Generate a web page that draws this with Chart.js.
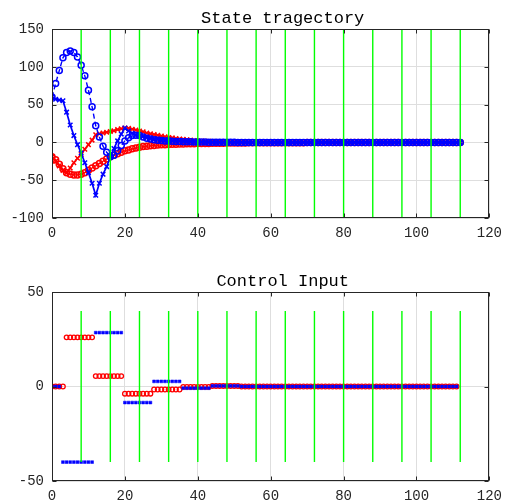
<!DOCTYPE html>
<html>
<head>
<meta charset="utf-8">
<script src="https://cdn.jsdelivr.net/npm/chart.js@4"></script>
<style>
  body { margin: 0; background: #fff; }
  canvas { position: absolute; left: 0; }
  #state { top: 0; }
  #input { top: 250px; }
</style>
</head>
<body>
<canvas id="state" width="509" height="250"></canvas>
<canvas id="input" width="509" height="253"></canvas>
<script>
// state trajectories, one value per step (t = 0..112)
const blueCircle = [
  60, 78, 95, 112, 119, 121, 119, 113, 102, 88,
  69, 47, 22, 7, -5, -13, -19, -17, -11, -4,
  2, 6, 9, 9.5, 9, 7, 5.5, 4.5, 3.5, 3,
  2.5, 2, 1.8, 1.5, 1.3, 1.1, 1, 0.8, 0.7, 0.6,
  0.5, 0.4, 0.4, 0.3, 0.3, 0.2, 0.2, 0.2, 0.1, 0.1,
  0.1, 0, 0, 0, 0, 0, 0, 0, 0, 0,
  0, 0, 0, 0, 0, 0, 0, 0, 0, 0,
  0, 0, 0, 0, 0, 0, 0, 0, 0, 0,
  0, 0, 0, 0, 0, 0, 0, 0, 0, 0,
  0, 0, 0, 0, 0, 0, 0, 0, 0, 0,
  0, 0, 0, 0, 0, 0, 0, 0, 0, 0,
  0, 0, 0
];
const blueCross = [
  60, 57, 56, 55, 40, 23, 9, -3, -14, -27,
  -40, -54, -70, -54, -42, -32, -19, -8, 2, 11,
  19, 15, 12, 10, 9, 8, 7, 6, 5, 4.5,
  4, 3.5, 3, 2.6, 2.2, 1.9, 1.6, 1.3, 1.1, 0.9,
  0.8, 0.6, 0.5, 0.4, 0.3, 0.3, 0.2, 0.2, 0.1, 0.1,
  0.1, 0, 0, 0, 0, 0, 0, 0, 0, 0,
  0, 0, 0, 0, 0, 0, 0, 0, 0, 0,
  0, 0, 0, 0, 0, 0, 0, 0, 0, 0,
  0, 0, 0, 0, 0, 0, 0, 0, 0, 0,
  0, 0, 0, 0, 0, 0, 0, 0, 0, 0,
  0, 0, 0, 0, 0, 0, 0, 0, 0, 0,
  0, 0, 0
];
const redCross = [
  -19, -25, -31, -37, -40, -34, -27, -21, -16, -9,
  -3, 3, 10, 11.5, 12.5, 13.5, 14.5, 15.5, 17, 18,
  19, 18.5, 17.5, 16.5, 15, 14, 12.5, 11.5, 10.5, 9.5,
  8.5, 7.5, 6.5, 6, 5, 4.5, 4, 3.5, 3, 2.5,
  2.2, 1.9, 1.6, 1.4, 1.2, 1, 0.9, 0.8, 0.7, 0.6,
  0.5, 0.4, 0.4, 0.3, 0.3, 0.2, 0.2, 0.2, 0.1, 0.1,
  0.1, 0, 0, 0, 0, 0, 0, 0, 0, 0,
  0, 0, 0, 0, 0, 0, 0, 0, 0, 0,
  0, 0, 0, 0, 0, 0, 0, 0, 0, 0,
  0, 0, 0, 0, 0, 0, 0, 0, 0, 0,
  0, 0, 0, 0, 0, 0, 0, 0, 0, 0,
  0, 0, 0
];
const redCircle = [
  -19, -23, -29, -35, -40, -42, -43, -43, -42, -40,
  -37, -34, -31, -28, -25, -22, -19, -17, -15, -13,
  -11, -10, -8.5, -7.5, -6.5, -5.5, -5, -4.5, -4, -3.5,
  -3.2, -3, -2.8, -2.6, -2.4, -2.2, -2, -1.9, -1.8, -1.7,
  -1.6, -1.5, -1.4, -1.3, -1.2, -1.1, -1, -1, -0.9, -0.9,
  -0.8, -0.8, -0.7, -0.7, -0.6, -0.6, -0.6, -0.5, -0.5, -0.5,
  -0.4, -0.4, -0.4, -0.4, -0.4, -0.3, -0.3, -0.3, -0.3, -0.3,
  -0.2, -0.2, -0.2, -0.2, -0.2, -0.1, -0.1, -0.1, -0.1, -0.1,
  -0.1, -0.1, -0.1, -0.1, -0.1, 0, 0, 0, 0, 0,
  0, 0, 0, 0, 0, 0, 0, 0, 0, 0,
  0, 0, 0, 0, 0, 0, 0, 0, 0, 0,
  0, 0, 0
];

// control inputs, one value per step (t = 0..111)
const redInput = [
  0, 0, 0, 0, 26, 26, 26, 26, 26, 26,
  26, 26, 5.5, 5.5, 5.5, 5.5, 5.5, 5.5, 5.5, 5.5,
  -3.8, -3.8, -3.8, -3.8, -3.8, -3.8, -3.8, -3.8, -1.6, -1.6,
  -1.6, -1.6, -1.6, -1.6, -1.6, -1.6, -0.2, -0.2, -0.2, -0.2,
  -0.2, -0.2, -0.2, -0.2, 0.3, 0.3, 0.3, 0.3, 0.3, 0.3,
  0.3, 0.3, 0, 0, 0, 0, 0, 0, 0, 0,
  0, 0, 0, 0, 0, 0, 0, 0, 0, 0,
  0, 0, 0, 0, 0, 0, 0, 0, 0, 0,
  0, 0, 0, 0, 0, 0, 0, 0, 0, 0,
  0, 0, 0, 0, 0, 0, 0, 0, 0, 0,
  0, 0, 0, 0, 0, 0, 0, 0, 0, 0,
  0, 0
];
const blueInput = [
  0, 0, 0, -40, -40, -40, -40, -40, -40, -40,
  -40, -40, 28.5, 28.5, 28.5, 28.5, 28.5, 28.5, 28.5, 28.5,
  -8.5, -8.5, -8.5, -8.5, -8.5, -8.5, -8.5, -8.5, 2.7, 2.7,
  2.7, 2.7, 2.7, 2.7, 2.7, 2.7, -0.9, -0.9, -0.9, -0.9,
  -0.9, -0.9, -0.9, -0.9, 0.3, 0.3, 0.3, 0.3, 0.3, 0.3,
  0.3, 0.3, 0, 0, 0, 0, 0, 0, 0, 0,
  0, 0, 0, 0, 0, 0, 0, 0, 0, 0,
  0, 0, 0, 0, 0, 0, 0, 0, 0, 0,
  0, 0, 0, 0, 0, 0, 0, 0, 0, 0,
  0, 0, 0, 0, 0, 0, 0, 0, 0, 0,
  0, 0, 0, 0, 0, 0, 0, 0, 0, 0,
  0, 0
];

// green markers at every hold step, and how far they reach
const holdTimes = [8, 16, 24, 32, 40, 48, 56, 64, 72, 80, 88, 96, 104, 112];
const stateSpan = [-100, 150];
const inputSpan = [-40, 40];

const xTicks = { min: 0, max: 120, step: 20 };
const stateTicks = { min: -100, max: 150, step: 50 };
const inputTicks = { min: -50, max: 50, step: 50 };

const BLUE = '#0000ff';
const RED = '#ff0000';
const GREEN = '#00ff00';
const AXIS = '#262626';
const GRID = '#dedede';
const MONO = '"Liberation Mono", "DejaVu Sans Mono", monospace';

const toPoints = arr => arr.map((v, i) => ({ x: i, y: v }));

function holdLines(span) {
  return holdTimes.map(t => ({
    data: [{ x: t, y: span[0] }, { x: t, y: span[1] }],
    showLine: true,
    borderColor: GREEN,
    borderWidth: 1.4,
    pointRadius: 0
  }));
}

// MATLAB style box with inward ticks, plus the axes title
const boxPlugin = {
  id: 'box',
  afterDraw(chart, args, opts) {
    const { ctx, chartArea: a, scales } = chart;
    ctx.save();
    ctx.strokeStyle = AXIS;
    ctx.lineWidth = 1;
    const l = Math.round(a.left) + 0.5, r = Math.round(a.right) - 0.5;
    const t = Math.round(a.top) + 0.5, b = Math.round(a.bottom) - 0.5;
    ctx.strokeRect(l, t, r - l, b - t);
    ctx.beginPath();
    scales.x.ticks.forEach(tk => {
      const px = Math.round(scales.x.getPixelForValue(tk.value)) + 0.5;
      ctx.moveTo(px, b); ctx.lineTo(px, b - 4);
      ctx.moveTo(px, t); ctx.lineTo(px, t + 4);
    });
    scales.y.ticks.forEach(tk => {
      const py = Math.round(scales.y.getPixelForValue(tk.value)) + 0.5;
      ctx.moveTo(l, py); ctx.lineTo(l + 4, py);
      ctx.moveTo(r, py); ctx.lineTo(r - 4, py);
    });
    ctx.stroke();

    ctx.fillStyle = '#000';
    ctx.font = '17px ' + MONO;
    ctx.textAlign = 'center';
    ctx.textBaseline = 'alphabetic';
    ctx.fillText(opts.text, (a.left + a.right) / 2 + 12, a.top - 6);
    ctx.restore();
  }
};

function makeOptions(yTicks, title, top, xHeight) {
  return {
    responsive: false,
    animation: false,
    layout: { padding: { top: top, right: 15, left: 0, bottom: 0 } },
    plugins: {
      legend: { display: false },
      tooltip: { enabled: false },
      box: { text: title }
    },
    scales: {
      x: {
        type: 'linear',
        min: xTicks.min,
        max: xTicks.max,
        afterFit: s => { s.height = xHeight; },
        border: { display: false },
        grid: { color: GRID, drawTicks: false },
        ticks: { stepSize: xTicks.step, padding: 7, maxRotation: 0, color: AXIS, font: { family: MONO, size: 14 } }
      },
      y: {
        type: 'linear',
        min: yTicks.min,
        max: yTicks.max,
        afterFit: s => { s.width = 52; },
        border: { display: false },
        grid: { color: GRID, drawTicks: false },
        ticks: { stepSize: yTicks.step, padding: 8, color: AXIS, font: { family: MONO, size: 14 } }
      }
    }
  };
}

new Chart(document.getElementById('state'), {
  type: 'scatter',
  data: {
    datasets: [
      ...holdLines(stateSpan),
      {
        data: toPoints(blueCircle), showLine: true,
        borderColor: BLUE, borderWidth: 1.4, borderDash: [5, 3],
        pointStyle: 'circle', pointRadius: 3, pointBorderWidth: 1.5,
        pointBorderColor: BLUE, pointBackgroundColor: 'rgba(0,0,0,0)'
      },
      {
        data: toPoints(blueCross), showLine: true,
        borderColor: BLUE, borderWidth: 1.7,
        pointStyle: 'crossRot', pointRadius: 3.2, pointBorderWidth: 1.5,
        pointBorderColor: BLUE
      },
      {
        data: toPoints(redCross), showLine: true,
        borderColor: RED, borderWidth: 1.7,
        pointStyle: 'crossRot', pointRadius: 3.2, pointBorderWidth: 1.5,
        pointBorderColor: RED
      },
      {
        data: toPoints(redCircle), showLine: true,
        borderColor: RED, borderWidth: 1.2,
        pointStyle: 'circle', pointRadius: 3, pointBorderWidth: 1.5,
        pointBorderColor: RED, pointBackgroundColor: 'rgba(0,0,0,0)'
      }
    ]
  },
  options: makeOptions(stateTicks, 'State tragectory', 29, 32),
  plugins: [boxPlugin]
});

new Chart(document.getElementById('input'), {
  type: 'scatter',
  data: {
    datasets: [
      ...holdLines(inputSpan),
      {
        data: toPoints(blueInput), showLine: false,
        pointStyle: 'rect', pointRadius: 2, pointBorderWidth: 0.5,
        pointBorderColor: BLUE, pointBackgroundColor: BLUE
      },
      {
        data: toPoints(redInput), showLine: false,
        pointStyle: 'circle', pointRadius: 2.3, pointBorderWidth: 1.3,
        pointBorderColor: RED, pointBackgroundColor: 'rgba(0,0,0,0)'
      }
    ]
  },
  options: makeOptions(inputTicks, 'Control Input', 42, 22),
  plugins: [boxPlugin]
});
</script>
</body>
</html>
